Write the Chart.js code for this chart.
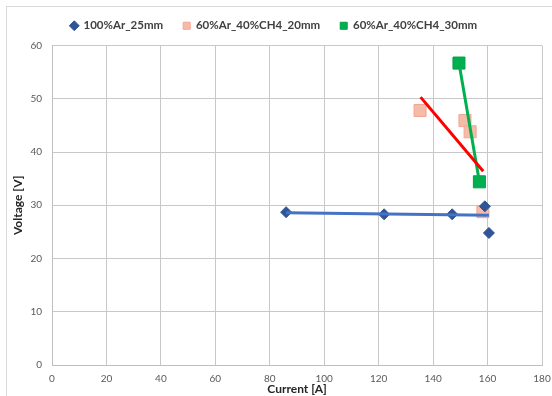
<!DOCTYPE html>
<html>
<head>
<meta charset="utf-8">
<script src="https://cdn.jsdelivr.net/npm/chart.js@4/dist/chart.umd.min.js"></script>
<style>
  body { margin: 0; background: #fff; }
  #wrap { width: 552px; height: 396px; }
</style>
</head>
<body>
<div id="wrap"><canvas id="myChart" width="552" height="396"></canvas></div>
<script>
// series names
var seriesNames = ["100%Ar_25mm", "60%Ar_40%CH4_20mm", "60%Ar_40%CH4_30mm"];

// 100%Ar_25mm
var arX = [86, 122, 147, 159, 160.5];
var arY = [28.7, 28.3, 28.3, 29.8, 24.8];
// 60%Ar_40%CH4_20mm
var ch20X = [135.2, 151.7, 153.6, 158.3];
var ch20Y = [47.8, 45.9, 43.8, 28.8];
// 60%Ar_40%CH4_30mm
var ch30X = [149.5, 157];
var ch30Y = [56.7, 34.4];

// trendline end points
var arTrendX = [86, 160.5];
var arTrendY = [28.6, 28.1];
var ch20TrendX = [135.4, 158.4];
var ch20TrendY = [50.3, 36.4];
var ch30TrendX = [149.5, 157];
var ch30TrendY = [56.7, 34.4];

var xTicks = [0, 20, 40, 60, 80, 100, 120, 140, 160, 180];
var yTicks = [0, 10, 20, 30, 40, 50, 60];

function pts(xs, ys) {
    return xs.map(function (x, i) { return { x: x, y: ys[i] }; });
}

var frame = {
    id: "frame",
    beforeInit: function (chart) {
        // a little more room under the legend
        var lg = chart.legend;
        if (lg) {
            var fit = lg.fit;
            lg.fit = function () { fit.call(this); this.height += 4; };
        }
    },
    beforeDraw: function (chart) {
        var c = chart.ctx;
        c.save();
        c.fillStyle = "#fff";
        c.fillRect(0, 0, chart.width, chart.height);
        c.strokeStyle = "#d9d9d9";
        c.lineWidth = 1;
        c.strokeRect(6.5, 6.5, chart.width, chart.height);
        c.restore();
    }
};

var font = "Lato, 'Open Sans', sans-serif";

new Chart("myChart", {
    type: "scatter",
    data: {
        datasets: [
            { label: "t1", data: pts(arTrendX, arTrendY), showLine: true, pointRadius: 0,
              borderColor: "#4472c4", borderWidth: 3, order: 0 },
            { label: "t2", data: pts(ch20TrendX, ch20TrendY), showLine: true, pointRadius: 0,
              borderColor: "#ff0000", borderWidth: 3, order: 0 },
            { label: "t3", data: pts(ch30TrendX, ch30TrendY), showLine: true, pointRadius: 0,
              borderColor: "#00b050", borderWidth: 3, order: 0 },
            { label: seriesNames[0], data: pts(arX, arY), pointStyle: "rectRot", pointRadius: 5.5,
              backgroundColor: "#2f5597", borderColor: "#2f5597", borderWidth: 1, order: 1 },
            { label: seriesNames[1], data: pts(ch20X, ch20Y), pointStyle: "rect", pointRadius: 8.5,
              backgroundColor: "#f5bba8", borderColor: "#f2a592", borderWidth: 1, order: 1 },
            { label: seriesNames[2], data: pts(ch30X, ch30Y), pointStyle: "rect", pointRadius: 8.5,
              backgroundColor: "#00b050", borderColor: "#00a046", borderWidth: 1, order: 1 }
        ]
    },
    options: {
        responsive: false,
        animation: false,
        layout: { padding: { left: 6, right: 10, top: 0, bottom: 0 } },
        plugins: {
            tooltip: { enabled: false },
            legend: {
                position: "top",
                labels: {
                    filter: function (item) { return seriesNames.indexOf(item.text) >= 0; },
                    usePointStyle: true,
                    boxWidth: 7,
                    boxHeight: 7,
                    padding: 20,
                    color: "#404040",
                    font: { family: font, size: 11.5, weight: "bold" }
                }
            }
        },
        scales: {
            x: {
                type: "linear",
                min: 0, max: 180,
                afterBuildTicks: function (s) { s.ticks = xTicks.map(function (v) { return { value: v }; }); },
                afterFit: function (s) { s.height = 31; s.paddingRight = 0; s.paddingLeft = 0; },
                grid: { color: "#c8c8c8", drawTicks: false },
                border: { color: "#bfbfbf" },
                ticks: { color: "#595959", padding: 8, font: { family: font, size: 10 } },
                title: { display: true, text: "Current [A]", color: "#262626", padding: { top: 1, bottom: 0 },
                         font: { family: font, size: 12, weight: "bold" } }
            },
            y: {
                min: 0, max: 60,
                afterBuildTicks: function (s) { s.ticks = yTicks.map(function (v) { return { value: v }; }); },
                afterFit: function (s) { s.width = 46; },
                grid: { color: "#c8c8c8", drawTicks: false },
                border: { color: "#bfbfbf" },
                ticks: { color: "#595959", padding: 10, font: { family: font, size: 10 } },
                title: { display: true, text: "Voltage [V]", color: "#262626", padding: { top: 5, bottom: 2 },
                         font: { family: font, size: 12, weight: "bold" } }
            }
        }
    },
    plugins: [frame]
});
</script>
</body>
</html>
